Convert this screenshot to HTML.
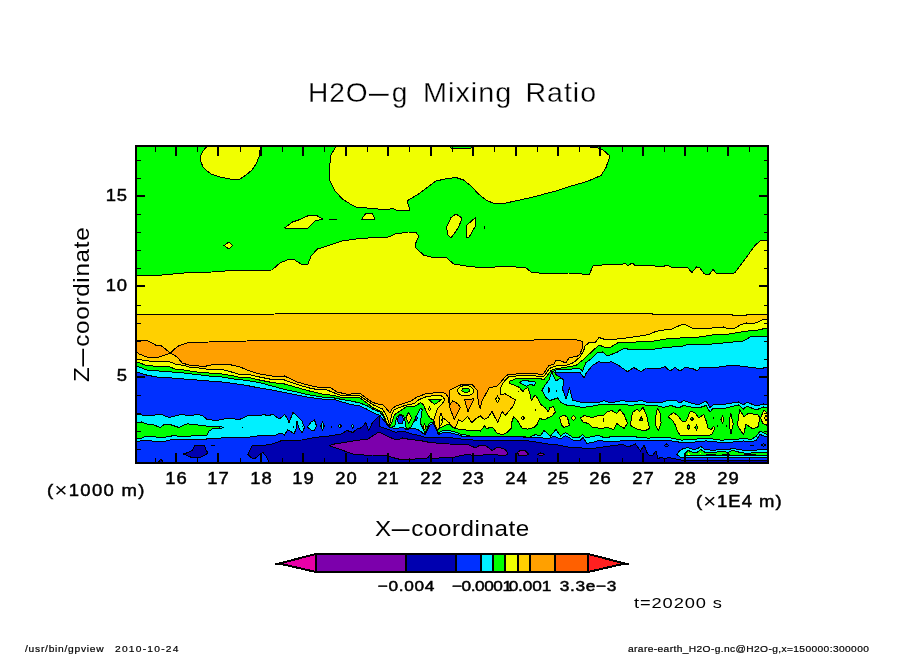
<!DOCTYPE html>
<html><head><meta charset="utf-8"><title>H2O-g Mixing Ratio</title>
<style>
html,body{margin:0;padding:0;background:#fff;}
body{width:904px;height:654px;position:relative;overflow:hidden;font-family:"Liberation Sans",sans-serif;color:#000;}
svg{position:absolute;left:0;top:0;}
.t{position:absolute;white-space:nowrap;line-height:1;}
.ax{font-size:16px;letter-spacing:0.8px;-webkit-text-stroke:0.45px #000;transform:scaleX(1.15);}
.cb{font-size:15px;letter-spacing:0.6px;-webkit-text-stroke:0.5px #000;transform:scaleX(1.15);}
.un{font-size:16.5px;letter-spacing:0.9px;-webkit-text-stroke:0.45px #000;transform:scaleX(1.12);transform-origin:0 0;}
.x{font-size:1.2em;-webkit-text-stroke:0;line-height:0;position:relative;top:1px;}
.ft{font-size:9.3px;transform:scaleX(1.1);transform-origin:0 0;-webkit-text-stroke:0.2px #000;}
.dash{display:inline-block;transform-origin:50% 50%;}
</style></head><body>
<svg width="904" height="654" viewBox="0 0 904 654" shape-rendering="crispEdges">
<defs><clipPath id="cp"><rect x="137" y="147" width="630" height="315"/></clipPath></defs>
<g clip-path="url(#cp)" stroke="#000" stroke-width="1" stroke-linejoin="round">
<rect x="136" y="146" width="632" height="317" fill="#00ff00" stroke="none"/>
<polygon fill="#f0ff00" points="207.5,140 206.5,147 203,151 200.5,156 201,162 203,167 207,171 212,174.5 220,177 230,179 240,179 246,175 252,170 256,164 259,157 260,150 260,140"/>
<polygon fill="#f0ff00" points="337,140 335.5,147 331,155 329.5,167.5 330,181 335,191 342.5,199 352.5,205.5 356,207 388.5,210 392,208 396,210 410,210 407,201 418.5,194 436,181 445,179 456,177.5 463.5,180 471,186 478.5,194 486,200 495,204 506,203 531,197.5 556,191 571,186 582,183 592,179.5 601,175.5 606,167.5 610,156 603,150 597,147.5 590,147 590,140"/>
<polygon fill="#00ff00" points="448.5,146 452,148.5 470,148.5 473.5,146"/>
<polygon fill="#f0ff00" points="284.5,228 292.5,222 300,219.5 307.5,216 316,215 322.5,219 315,221 308,228"/>
<polyline fill="none" points="329,219.5 337,219.5"/>
<polygon fill="#f0ff00" points="224,245.5 229,242 232.5,245.5 229,249"/>
<polygon fill="#f0ff00" points="361.5,219.5 366,213 372,213 375,219.5"/>
<polygon fill="#f0ff00" points="446.5,227.5 451,217.5 456,214 462,218 458.5,227.5 451,238 448,235"/>
<polygon fill="#f0ff00" points="466.5,237.5 467,225 476,217 475.5,226 468.5,238"/>
<polyline fill="none" points="484.5,226 484.5,229"/>
<polygon fill="#f0ff00" points="130,275 155,275 162,275 190,272.5 212,272 232,270.5 272,270 280,263 287,260 294,259.5 301,264 308,264 311,256 317.5,249 330,245 342,241 356,239 373.5,237.5 388.5,237 395,234 408.5,232 416,232.5 419,236 416,242.5 415.5,247.5 423.5,255 431,257 446,257 453.5,264 466,266 483.5,268 506,266 526,268 532,272.5 553.5,274 568.5,273 582,274 589.5,274 593,266 612,264 623,264 625,263 628,266 632,263 636,266 642,265 654.5,266 662,267 667,265 673,268 687,267 692,272.5 696.5,267 699.5,267.5 704.5,274 709.5,274 713,269.5 717,274 734.5,273 744.5,260 754.5,246 760,241 775,240.5 775,327.5 767,328 758,330 743.5,331.5 729,334 712,335 696,337.5 680,338 666,339 654.5,341 643,341.5 630,342.5 617.5,343 610,347.5 605,347.5 599,345 592.5,351 584,359 576,365.5 567.5,367 555,369 551,370.5 547.2,375.7 544,379.5 539,378.5 534,378 526.3,378.5 515.3,379 509.8,381.2 509.3,383.4 515.3,385.6 519.2,387.3 523,391.7 525.2,388.4 528,387.8 530.2,394.4 531.3,400.5 535.1,395 537.3,397.7 540.6,404.3 545,407.6 548.3,412 550,407.6 553.3,406.5 555.5,412 551.6,416.4 548.3,417.5 545,419.7 539.5,418.6 537.3,424.1 534,427.4 527.4,429.1 521.9,428 517.5,420.8 513.7,416.4 511.5,423 512,427.4 506.5,432.9 502.1,434.6 496.6,432.9 493.3,428 490,426.9 486.9,429.2 484.5,425.9 480.3,431.1 475.5,430.2 468,430.2 462.2,429.7 455.6,428.5 452.8,427.3 449.4,424.2 445.2,425.2 440.4,427.8 437.5,430.2 434.7,424.5 434.2,422.2 433.4,420.3 429.6,417.6 426.5,412.1 423.4,404.4 420.3,402.8 416.4,405.6 412.5,406.7 406.3,406.7 399.4,411.4 394.7,414.5 391.6,423 389.3,426.5 386.2,421.4 382.3,412.1 380,411 372.5,407.5 367.5,403.5 360,398 351,397.5 342,397.5 334.5,395.5 322,394 309.5,391 297,387.5 284.5,384 272,382.5 259.5,380 247,377 240,377.5 231.5,375.5 221.5,374 209,373 196.5,372 184,370 175,369 169,366.5 159,366.5 146.5,365.5 137,362 130,360"/>
<polygon fill="#ffd000" points="130,315 250,314.5 300,313.5 356,313.5 420,313.5 460,314 500,313.5 582,313.5 643,314 650,313.5 655,314.5 730,314.5 735,315.5 745,315.5 748,314.5 775,314.5 775,318.5 767,319 762,320 758,322 752,324 746.5,323 741,324.5 735,328 729,329 723.5,327 719,327.5 706,328.5 696,329 692,328 686,325 682,324.5 677.5,326.5 672,329 660,330.5 654.5,332 649,334.5 643,335.5 630,337.5 617.5,339 605,339.5 599,337.5 595,343 591,342 589,342.5 585,346.2 583.7,350.6 580,356.9 573.7,362.5 567.5,365 557.5,365.6 551.2,367.5 549,369 545,375.2 542.8,376.8 534,375.7 520.8,375.5 508.7,376.8 505.4,380.1 502.1,384.5 499.9,390 501,394.4 505.4,393.9 515.3,399.9 513.7,405.4 505.4,415.3 502.1,411.5 497.7,422.5 493.3,414.2 492.1,411.2 487.9,417.8 484.1,419.3 480.3,415.9 474.6,419.7 471.7,422.6 467.5,416.4 462.2,421.6 458.5,419.7 457.5,422.6 455.6,427.3 454.2,428.3 452.3,426.4 449,422.6 444.2,418.8 442.3,419 439.5,427.5 437.2,429.5 434.7,424.5 433.8,419.7 435.2,415 437.6,408.4 442.3,403.6 444.7,399.8 443.3,397 441.2,395.9 434.2,395.5 426.5,396.6 418.7,399.7 414,403.6 405.6,405.2 399.4,407.5 393.6,410.2 391.6,415.2 389.7,424.5 386.2,415.2 382.3,408.6 380,408 372.5,404.5 367.5,401 360,396 351,395.5 339.5,395 334.5,393 327,390 317,389.5 309.5,388 297,384.5 284.5,380 272,379.5 259.5,377 247,374 238,374 231.5,372 224,370 219,369.5 209,369.5 199,368 189,367 184,365.5 175,364 168,361 161.5,361 156.5,362 141.5,360 137,359 130,358"/>
<polygon fill="#f0ff00" points="439.8,426.5 439.3,419 441,412.8 442.6,418 442.8,421.5 441.2,425"/>
<polyline fill="none" points="441.5,418.5 441.5,420.5"/>
<polygon fill="#ffa000" points="130,341 137,341 141.5,340.5 146.5,340.5 150,342 156.5,345.5 161.5,346 170.5,353 165,355 159,357 147,357 139,354 137,352 130,351"/>
<polygon fill="#ffa000" points="170.5,353 174,349.5 179,345.5 189,342.5 209,342 211.5,341.5 247,341 305,340.5 356,340.5 530,340.5 537.5,339.5 555,340 570,339 575,339.5 582.5,341.5 582,349 580,354 577.5,356 569,358 566,363 560,360.5 556,360 554,364 549,365.5 547.2,368 543.9,373.5 541.7,374.6 534,373.5 520.8,373.5 507.6,374.8 504.3,377.9 501,381.8 496.6,386.7 490,387.3 488.8,388.4 481.7,401.7 480.3,408.8 479.3,406.5 477.9,398.9 477.4,390.3 471.7,384.2 462.2,384.2 449,390.3 449.4,405.5 448,397 445.7,393.7 442.3,392.2 438.5,392.7 430,393.2 426.5,393.5 417.2,397 411,400.9 403.2,403.6 395.5,406.3 392.4,408.6 390,412.9 387.7,410.2 383,404.8 380,404.4 372.5,402.5 367.5,399 360,393.5 351,394 346,394 337,392 329.5,387 317,387 309.5,385.5 297,382 284.5,376 282,377 272,376 259.5,374 247,370 241.5,367.5 234,365.5 226.5,364 215,364 206.5,366 199,366 189,365 182,363 179,359 175,355.5"/>
<polygon fill="#ffa000" points="449.4,405.5 452.8,400.8 457.5,403.6 460.4,407.4 457.5,413.1 454.2,419.3 450.4,409.3"/>
<polygon fill="#ffa000" points="464.6,399.3 474.1,398.9 467.9,411.7"/>
<ellipse fill="#f0ff00" cx="465.6" cy="390.8" rx="8" ry="5.2"/>
<ellipse fill="#00ff00" cx="465.9" cy="390.3" rx="4" ry="1.9"/>
<polygon fill="#f0ff00" points="497.5,396 499.4,399.3 497.5,402.6 495.6,399.3"/>
<polygon fill="#00ff00" points="428.4,399 441.9,399.3 434.5,404.6"/>
<polygon fill="#f0ff00" points="429.6,407 430.6,409 429.6,411 428.6,409"/>
<polygon fill="#00f0ff" points="519.2,382.3 523,380.7 531.8,381.2 535.7,382.3 534.6,385.6 530.7,384.5 526.3,386.2 523,384.5"/>
<polyline fill="none" points="518.5,390.5 518.5,391.5"/>
<polygon fill="#f0ff00" points="522.7,416 524.5,418 522.7,420 521,418"/>
<polyline fill="none" points="535.5,408.5 535.5,410.5"/>
<polygon fill="#00f0ff" points="130,364 137,366 146.5,370 159,371 171.5,372 184,373 196.5,374.5 209,376 221.5,377 234,379 247,380.5 259.5,382.5 272,386 284.5,389.5 297,392 309.5,395 322,397 334.5,398 342,399.5 351,401 360,403 367.5,406 372.5,409 380,412 383,416 386.5,424 389.5,428 392.4,426.8 394.7,426.1 396.6,417.6 399.4,414.5 403.2,415.2 404.8,419.1 405.6,426.1 407.1,429.2 411,426.8 414.1,421.4 420.3,408.3 422.2,409.4 420.3,423 423.4,429.2 424.9,433.8 427.2,428.4 429.6,423 434.2,422.2 434.7,424.5 437.5,430.2 438,433 441.4,431.1 449,430 452.8,431.6 457.5,432.5 461.3,434.9 466,434.9 467.5,435.9 480,436.5 523,436.5 529,437.5 535.5,434.5 540.5,436 544,430.5 550.5,436 556,429.5 560.5,436 565.5,432.5 573,437.5 579,437.5 582.5,434.5 585.5,437.5 593,436.6 598,435.1 604,437.6 618,436.1 630.5,436.1 640.5,437.6 649,438.1 656,437.6 668.5,437.6 681,440.1 691,439.6 706,438.1 721,440.1 736,439.6 743.5,438.1 751,439.6 756,436.6 760,431 767,434.5 775,435 775,470 130,470"/>
<polygon fill="#0030ff" points="130,370 137,372 146.5,375 156.5,377 171.5,378 184,379 196.5,380 209,381 221.5,382 234,383.5 247,385.5 259.5,388 272,390 284.5,392.5 297,395 309.5,397.5 322,399 334.5,399.5 342,402 351,404.5 360,406 367.5,409.5 372.5,412.5 380,415.5 384.5,421.5 389.5,427.5 395.5,428.4 403.2,427.6 407.1,430 411,428 417.2,429.2 421.8,432.3 424.9,435 427.6,429.5 430.3,424.8 433.4,423.5 435.8,428.4 438,433.8 439,434.2 442.3,433 449,432.5 453.7,433.5 458.5,434.9 462.2,436.3 467.5,436.7 523,437 529,438 540.5,437.5 548,439 554,436 560.5,439 565.5,435.5 573,440 580.5,440 583,437.5 587,443.4 593,442.4 599,440.4 605.5,441.4 613,441.9 620.5,440.9 630.5,440.4 640.5,440.4 649,440.9 656,440.4 668.5,440.4 681,442.4 691,442.4 706,440.9 721,442.4 736,441.9 743.5,440.9 751,441.9 756,440.4 760,434.5 767,437 775,437 775,470 130,470"/>
<ellipse fill="#0030ff" cx="400.5" cy="419.7" rx="2.7" ry="4.3"/>
<polygon fill="#f0ff00" points="408.7,412.2 411.6,417.9 408.7,423.6 405.8,417.9"/>
<polygon fill="#ffd000" stroke="none" points="408.9,415.2 410.4,418 408.9,420.8 407.6,418"/>
<polygon fill="#0030ff" points="416.2,415.6 417.5,418.3 416.2,421 415,418.3"/>
<polygon fill="#f0ff00" points="424.5,423.9 426.2,426.8 424.5,429.7 422.8,426.8"/>
<polygon fill="#00f0ff" points="775,336 767,336 751,336.5 743.5,341 723.5,343 706,344.5 686,345 683,346 672,347 657.5,348.5 650,350 643,349 630,350 625,348 617.5,352 607.5,356 602.5,352 597.5,352.5 591,359 586,362.5 582.5,371 579,368 572.5,369 556,370 552.5,372 551,374 549,380 545,385 542,390.5 546,397.5 550,400.5 557.5,398 561,402.5 567.5,405.5 575,406 583,407.5 593,406 603,404 613,405 623,404 630.5,405.5 642,404 647,405.5 656,405.5 663.5,407.5 671,405.5 678.5,408 683.5,405.5 691,407 698.5,408 706,405.5 710,412 713.5,408 726,408 738.5,405 743.5,409 747,406 756,410 763.5,407 767,408 775,408"/>
<polygon fill="#00ff00" points="551.8,371 553,375.3 556.1,380.9 560.4,378.4 561,376.6 556.7,375.3 554.3,372.3"/>
<polygon fill="#0030ff" points="775,367.5 767,367.5 760,368.5 752.5,367.5 740,366 730,365.5 715,367.5 700,367.5 697.5,371 692.5,368.5 685,367.5 680,371 675,367.5 670,371 665,366.7 660,368.5 646.2,368 641.2,371.7 633.7,367.5 627.5,371.7 618.7,365.5 611.2,361.7 605,363 598.7,361.7 592.5,365.5 586.2,373 584,378 580,372.5 569,372.5 555.5,372 555.5,374 564,380 562.5,389 566,399 569.5,388 572.5,400 584,403 593,402.5 600,402 604,400.5 607.5,402 613,402.5 622.5,400.5 630,402 642,400.5 647,402.5 656,402 662,402.5 668.5,400 675,400 680,403 683.5,400.5 691,403 698.5,405 706,401 710,407.5 713.5,404.5 726,404 738.5,402 743.5,405 747,402 756,406 763.5,404 767,405 775,405"/>
<polyline fill="none" points="548.5,387 548.5,393"/>
<polyline fill="none" points="549.5,388 549.5,392"/>
<polyline fill="none" points="556,390 556,392"/>
<polygon fill="#00f0ff" points="130,414.5 137,414.5 140,414 144,416 148,415 153,415.5 160,414 164,415.5 169,417.5 176.5,415.5 181.5,414.5 189,415.5 199,414.5 203,416 206.5,419 211.5,420 219,420 224,419 233,418.5 238,420 243,418 247,416 253,415 259.5,416 263,414.5 268,415.5 273,414.5 279.5,419 284.5,414.5 287,418 289,422.5 293,412.5 297,416 302,421 304.5,427.5 302,433 299,428 297,421 296,429 294,434 289.5,430.5 287.5,430 284.5,435 281,433 274.5,435.5 257,436 247,437.5 233,438 229,437.5 221.5,438 206.5,439 194,439 189,439.5 179,440 171.5,439.5 166.5,441 156.5,442 150,440.5 144,440 140,441 137,442 130,442"/>
<polygon fill="#00ff00" points="130,423 137,423 141.5,422 146.5,424 153,424.5 156.5,426 160,427.5 165,424 171.5,425 179,427.5 184,425 188,423.5 191.5,425 195,424.5 201.5,425.5 215,427 220,426 223,427.5 220,429 214,428 209,431 206.5,436 193,435.5 189,436.5 176.5,436 174,435 171.5,436 166.5,437 159,438 153,436 144,437 140,439 137,438 130,438"/>
<polygon fill="#00f0ff" points="219.5,427.5 221,426.5 223.5,427.5 221,428.5"/>
<polyline fill="none" points="242.5,427 242.5,428"/>
<polyline fill="none" points="211,445.5 215,445.5"/>
<polyline fill="none" points="293.5,426 293.5,428"/>
<polyline fill="none" points="302.5,426 302.5,427"/>
<polygon fill="#00f0ff" points="307.5,427 311,422 314.5,420 316.5,426 314.5,430 311,430"/>
<polygon fill="#00f0ff" points="320.8,426 322.5,421.5 324.2,426 322.5,430.5"/>
<polyline fill="none" points="331.5,426 331.5,428"/>
<polygon fill="#00f0ff" points="338,426 340,424.5 341.5,426 340,428"/>
<polygon fill="#00f0ff" points="351.5,426 352.5,424.5 354,426 352.5,428.5"/>
<polygon fill="#0000b0" points="183.5,454 188,452.5 192,450.5 195,445.5 204.5,446 206,450 208,453 204,455.5 201.5,457 193,458 188,456"/>
<polygon fill="#0000b0" points="158,463 161,459 164,463"/>
<polygon fill="#0000b0" points="270,464 266,456 263,452.5 261,453.5 254.5,459 251,457.5 248,454.5 252.5,445 266,445 272,444 282,440.5 302,440 314.5,437.5 334.5,435.5 336,434 339.5,435 347,430.5 353,432.5 357,429 360,428.5 363.7,425.6 365.6,422.5 368.7,430.6 372.5,422.5 379.4,415.6 380,426.8 387.7,429.2 395.5,432.3 403.2,431.1 411,433.8 418.7,435.4 426.5,437.7 434.2,437 442,437.7 450,437.7 465,439.5 473,440 523,440 535.5,442 548,444 555.5,444.5 568,447 578,447.5 589,449 599,447.5 610.5,446 618,445 623,444.5 628,447 635.5,444 640.5,451 644,445 647,452.5 649,455 653,455 656,451 658,459 661,457 665,459 668,457.5 681,460 706,460 767,460 775,460 775,470"/>
<polygon fill="#7c00ac" points="329,445.5 334.5,444 347,442 360,440 367.5,439.5 372.5,436 379,432 385,435 392.5,438.5 397.5,440 402.5,438 410,439.5 420,440.5 430,442.5 449,444 467.5,444.5 476,448 480,445 485,445 492,450.5 498,447 505.5,449.5 508,454 504,456 498,455 492,454.5 483,455 475.5,455.5 466,454.5 452.5,457.5 442.5,457.5 432.5,459 430,455 427.5,458 415,459 410,459.5 402.5,460 392.5,457.5 386,455 372.5,455 367.5,455.5 360,454.5 356,455 347,452 342,450 334.5,447.5"/>
<polygon fill="#7c00ac" points="517.5,452.5 520,450.5 525.5,451 528.5,454 525.5,456 519,455.5"/>
<polygon fill="#7c00ac" points="537,454.5 540.5,453 545,454.5 540.5,455.5"/>
<polygon fill="#00f0ff" points="677,454.6 679.3,451.1 682.8,448.8 687.4,447.6 693.2,449.4 697.3,448.8 700.8,446.5 704.8,449.4 714.1,450.5 718.8,449.4 728,449.9 732.7,448.2 739.7,449.9 751.3,450.5 758.3,449.9 767,449.4 775,449.4 775,458 767,458 740,457.5 720,458 700,457.5 690,457.5 680,457"/>
<polygon fill="#00ff00" points="684,454.6 688,450.5 693.2,452.3 697.3,452.3 700.8,449.4 704.8,452.3 714.1,452.8 720,451.1 728,452.3 732.7,450.5 739.7,452.3 746.7,453.4 758.3,452.3 767,452.8 775,452.8 775,455.6 740,455.6 700,455.6 684,455.2"/>
<polygon fill="#f0ff00" stroke="none" points="687.5,455 688.8,453 690,455"/>
<polygon fill="#f0ff00" stroke="none" points="699.6,454 700.5,452.6 701.4,454"/>
<polyline fill="none" points="706,454.5 716,454.5"/>
<polyline fill="none" points="722,454.5 730,454.5"/>
<polyline fill="none" points="744,454.5 756,454.5"/>
<polygon fill="#0030ff" points="664.5,445.5 666.5,444 668.5,445.5 666.5,447"/>
<polyline fill="none" points="750,445.5 754,445.5"/>
<polygon fill="#0030ff" points="761.5,445 763.5,443.5 765.5,445 763.5,446.5"/>
<polygon fill="#f0ff00" points="559.5,417.5 564,415 567.5,417.5 569.5,425.5 564,427.5 561.5,425"/>
<polygon fill="#f0ff00" points="573.5,415.5 576,418 573.5,420.5 571,418"/>
<polygon fill="#f0ff00" points="580.5,417.9 584.2,415.6 592.6,417.7 598,415.6 603.1,415.8 607.3,411.6 611.5,410.5 616.8,413.4 619.9,409.5 624.1,414.7 627.5,423.1 624.3,428.4 621,426.5 616.8,423.5 613.6,429.6 607.3,427.5 601,428.4 592.6,427.3 588.4,423.3 583.2,422.5"/>
<polyline fill="none" points="603.5,418 603.5,422"/>
<polygon fill="#f0ff00" points="630.2,425.2 632.5,412.6 636.7,409.3 639.9,411.4 643,407.2 646.4,414.7 649.6,428.4 645.1,430.7 638.8,429.6 633.6,427.5"/>
<polygon fill="#00ff00" points="639.5,420.5 641.5,416.5 642.5,420.5"/>
<polygon fill="#f0ff00" points="655,420 657.3,408.4 660,412.6 661.1,423.1 658.3,431 655.8,425.2"/>
<polygon fill="#f0ff00" points="668,416.8 673.5,412.4 677.7,415.6 682.9,422.1 686.1,421 690.3,411.4 694.5,412.4 698.7,417.7 703.9,414.5 706.2,421 708.1,428.4 711.3,429.4 713.8,426.3 714.7,428.4 711.5,434.9 697.6,435.9 680.8,435.9 677.5,431.5 675.4,425.2 672.2,420"/>
<polygon fill="#00ff00" points="692,417 693.5,419 692,421 690.5,419"/>
<polygon fill="#00ff00" points="688.5,425 690,427 688.5,429.5 687,427"/>
<polygon fill="#00ff00" points="696.5,425 698,427.5 696.5,430 695,427.5"/>
<polygon fill="#f0ff00" points="722.5,415.5 724,419.5 722.5,423.5 721,419.5"/>
<polygon fill="#f0ff00" points="730.7,413 733.2,424 731,433.5 729,424"/>
<polygon fill="#f0ff00" points="737.4,425.2 739.7,409.5 743.9,416.6 748.1,413.5 757.6,414.5 759.9,417.9 757.8,427.5 752.3,428.6 746,424.4 743.5,434.9 740.6,430.5"/>
<polygon fill="#f0ff00" points="760.5,417.9 763.9,410.3 767,412.6 775,412.6 775,425.2 767,425.2 762.8,423.3"/>
<polygon fill="#ffd000" points="764.5,418 766,415.5 767.5,418 766,420.5"/>
<polyline fill="none" points="713.5,416.5 713.5,418.5"/>
<polyline fill="none" points="717.5,425 717.5,427"/>
<polyline fill="none" points="726.5,425 726.5,427"/>
</g>
<g stroke="#000" stroke-width="1" fill="none">
<path stroke-width="1" d="M155.5 147V152 M155.5 462V458"/>
<path stroke-width="2" d="M176 147V156 M176 462V453"/>
<path stroke-width="1" d="M197.5 147V152 M197.5 462V458"/>
<path stroke-width="2" d="M218 147V156 M218 462V453"/>
<path stroke-width="1" d="M240.5 147V152 M240.5 462V458"/>
<path stroke-width="2" d="M261 147V156 M261 462V453"/>
<path stroke-width="1" d="M282.5 147V152 M282.5 462V458"/>
<path stroke-width="2" d="M303 147V156 M303 462V453"/>
<path stroke-width="1" d="M324.5 147V152 M324.5 462V458"/>
<path stroke-width="2" d="M346 147V156 M346 462V453"/>
<path stroke-width="1" d="M367.5 147V152 M367.5 462V458"/>
<path stroke-width="2" d="M388 147V156 M388 462V453"/>
<path stroke-width="1" d="M409.5 147V152 M409.5 462V458"/>
<path stroke-width="2" d="M431 147V156 M431 462V453"/>
<path stroke-width="1" d="M452.5 147V152 M452.5 462V458"/>
<path stroke-width="2" d="M473 147V156 M473 462V453"/>
<path stroke-width="1" d="M494.5 147V152 M494.5 462V458"/>
<path stroke-width="2" d="M516 147V156 M516 462V453"/>
<path stroke-width="1" d="M537.5 147V152 M537.5 462V458"/>
<path stroke-width="2" d="M558 147V156 M558 462V453"/>
<path stroke-width="1" d="M579.5 147V152 M579.5 462V458"/>
<path stroke-width="2" d="M600 147V156 M600 462V453"/>
<path stroke-width="1" d="M622.5 147V152 M622.5 462V458"/>
<path stroke-width="2" d="M643 147V156 M643 462V453"/>
<path stroke-width="1" d="M664.5 147V152 M664.5 462V458"/>
<path stroke-width="2" d="M685 147V156 M685 462V453"/>
<path stroke-width="1" d="M707.5 147V152 M707.5 462V458"/>
<path stroke-width="2" d="M728 147V156 M728 462V453"/>
<path stroke-width="1" d="M749.5 147V152 M749.5 462V458"/>
<path stroke-width="1" d="M137 449.5H141 M767 449.5H764"/>
<path stroke-width="1" d="M137 431.5H141 M767 431.5H764"/>
<path stroke-width="1" d="M137 413.5H141 M767 413.5H764"/>
<path stroke-width="1" d="M137 395.5H141 M767 395.5H764"/>
<path stroke-width="2" d="M137 377H145 M767 377H759"/>
<path stroke-width="1" d="M137 359.5H141 M767 359.5H764"/>
<path stroke-width="1" d="M137 341.5H141 M767 341.5H764"/>
<path stroke-width="1" d="M137 323.5H141 M767 323.5H764"/>
<path stroke-width="1" d="M137 305.5H141 M767 305.5H764"/>
<path stroke-width="2" d="M137 286H145 M767 286H759"/>
<path stroke-width="1" d="M137 268.5H141 M767 268.5H764"/>
<path stroke-width="1" d="M137 250.5H141 M767 250.5H764"/>
<path stroke-width="1" d="M137 232.5H141 M767 232.5H764"/>
<path stroke-width="1" d="M137 214.5H141 M767 214.5H764"/>
<path stroke-width="2" d="M137 196H145 M767 196H759"/>
<path stroke-width="1" d="M137 178.5H141 M767 178.5H764"/>
<path stroke-width="1" d="M137 160.5H141 M767 160.5H764"/>
</g>
<rect x="136" y="146" width="632" height="317" fill="none" stroke="#000" stroke-width="2"/>
<g stroke="#000" stroke-width="2" stroke-linejoin="miter">
<polygon stroke-linejoin="bevel" fill="#e800a8" points="316,554 279,563.5 316,572"/>
<path d="M275 563.5H282"/>
<rect x="316" y="554" width="90" height="18" fill="#7c00ac"/>
<rect x="406" y="554" width="50" height="18" fill="#0000b0"/>
<rect x="456" y="554" width="25" height="18" fill="#0030ff"/>
<rect x="481" y="554" width="12" height="18" fill="#00f0ff"/>
<rect x="493" y="554" width="12" height="18" fill="#00ff00"/>
<rect x="505" y="554" width="13" height="18" fill="#f0ff00"/>
<rect x="518" y="554" width="12" height="18" fill="#ffd000"/>
<rect x="530" y="554" width="25" height="18" fill="#ffa000"/>
<rect x="555" y="554" width="33" height="18" fill="#ff6000"/>
<polygon stroke-linejoin="bevel" fill="#ff2020" points="588,554 625,563.5 588,572"/>
<path d="M622 563.5H629"/>
</g>
</svg>
<div class="t " style="left:308px;top:78px;font-size:28.5px;letter-spacing:1px;transform-origin:0 0;-webkit-text-stroke:0.3px #fff;transform:scaleX(0.985);">H2O<span class="dash" style="transform:scaleX(3.0);margin:0 6.5px">-</span>g</div>
<div class="t " style="left:422.5px;top:78px;font-size:28.5px;letter-spacing:1px;transform-origin:0 0;-webkit-text-stroke:0.3px #fff;transform:scaleX(1.01);">Mixing</div>
<div class="t " style="left:525.5px;top:78px;font-size:28.5px;letter-spacing:1px;transform-origin:0 0;-webkit-text-stroke:0.3px #fff;transform:scaleX(1);">Ratio</div>
<div class="t ax" style="left:155.9px;top:471px;width:40px;text-align:center;text-indent:0.8px">16</div>
<div class="t ax" style="left:198.35px;top:471px;width:40px;text-align:center;text-indent:0.8px">17</div>
<div class="t ax" style="left:240.8px;top:471px;width:40px;text-align:center;text-indent:0.8px">18</div>
<div class="t ax" style="left:283.25px;top:471px;width:40px;text-align:center;text-indent:0.8px">19</div>
<div class="t ax" style="left:325.7px;top:471px;width:40px;text-align:center;text-indent:0.8px">20</div>
<div class="t ax" style="left:368.15px;top:471px;width:40px;text-align:center;text-indent:0.8px">21</div>
<div class="t ax" style="left:410.6px;top:471px;width:40px;text-align:center;text-indent:0.8px">22</div>
<div class="t ax" style="left:453.05px;top:471px;width:40px;text-align:center;text-indent:0.8px">23</div>
<div class="t ax" style="left:495.5px;top:471px;width:40px;text-align:center;text-indent:0.8px">24</div>
<div class="t ax" style="left:537.95px;top:471px;width:40px;text-align:center;text-indent:0.8px">25</div>
<div class="t ax" style="left:580.4px;top:471px;width:40px;text-align:center;text-indent:0.8px">26</div>
<div class="t ax" style="left:622.85px;top:471px;width:40px;text-align:center;text-indent:0.8px">27</div>
<div class="t ax" style="left:665.3px;top:471px;width:40px;text-align:center;text-indent:0.8px">28</div>
<div class="t ax" style="left:707.75px;top:471px;width:40px;text-align:center;text-indent:0.8px">29</div>
<div class="t ax" style="left:75.5px;top:188px;width:52px;text-align:right;transform-origin:100% 0;">15</div>
<div class="t ax" style="left:75.5px;top:278px;width:52px;text-align:right;transform-origin:100% 0;">10</div>
<div class="t ax" style="left:75.5px;top:368px;width:52px;text-align:right;transform-origin:100% 0;">5</div>
<div class="t un" style="left:47px;top:482.3px;letter-spacing:1.17px">(<span class="x">&times;</span>1000 m)</div>
<div class="t un" style="left:696px;top:493.3px;letter-spacing:0.88px">(<span class="x">&times;</span>1E4 m)</div>
<div class="t " style="left:375px;top:518px;font-size:22px;letter-spacing:0.5px;transform:scaleX(1.1);transform-origin:0 0;">X<span class="dash" style="transform:scaleX(3.0);margin:0 5px">-</span>coordinate</div>
<div class="t" style="left:0;top:0;font-size:22px;letter-spacing:0.64px;transform-origin:0 0;transform:translate(71px,382px) rotate(-90deg) scaleX(1.1);">Z<span class="dash" style="transform:scaleX(3.0);margin:0 5px">-</span>coordinate</div>
<div class="t cb" style="left:346px;top:578px;width:120px;text-align:center;letter-spacing:0.6px;text-indent:0.6px">&minus;0.004</div>
<div class="t cb" style="left:422.3px;top:578px;width:120px;text-align:center;letter-spacing:-0.4px;text-indent:-0.4px">&minus;0.0001</div>
<div class="t cb" style="left:470.2px;top:578px;width:120px;text-align:center;letter-spacing:-0.1px;text-indent:-0.1px">0.001</div>
<div class="t cb" style="left:528px;top:578px;width:120px;text-align:center;letter-spacing:0.6px;text-indent:0.6px">3.3e&minus;3</div>
<div class="t " style="left:634px;top:595px;font-size:15.5px;letter-spacing:0.75px;transform:scaleX(1.18);transform-origin:0 0;">t=20200 s</div>
<div class="t ft" style="left:25px;top:645px;letter-spacing:0.68px;">/usr/bin/gpview</div>
<div class="t ft" style="left:114.5px;top:645px;letter-spacing:1.12px;">2010-10-24</div>
<div class="t ft" style="left:628px;top:645px;letter-spacing:0.34px;">arare-earth_H2O-g.nc@H2O-g,x=150000:300000</div>
</body></html>
